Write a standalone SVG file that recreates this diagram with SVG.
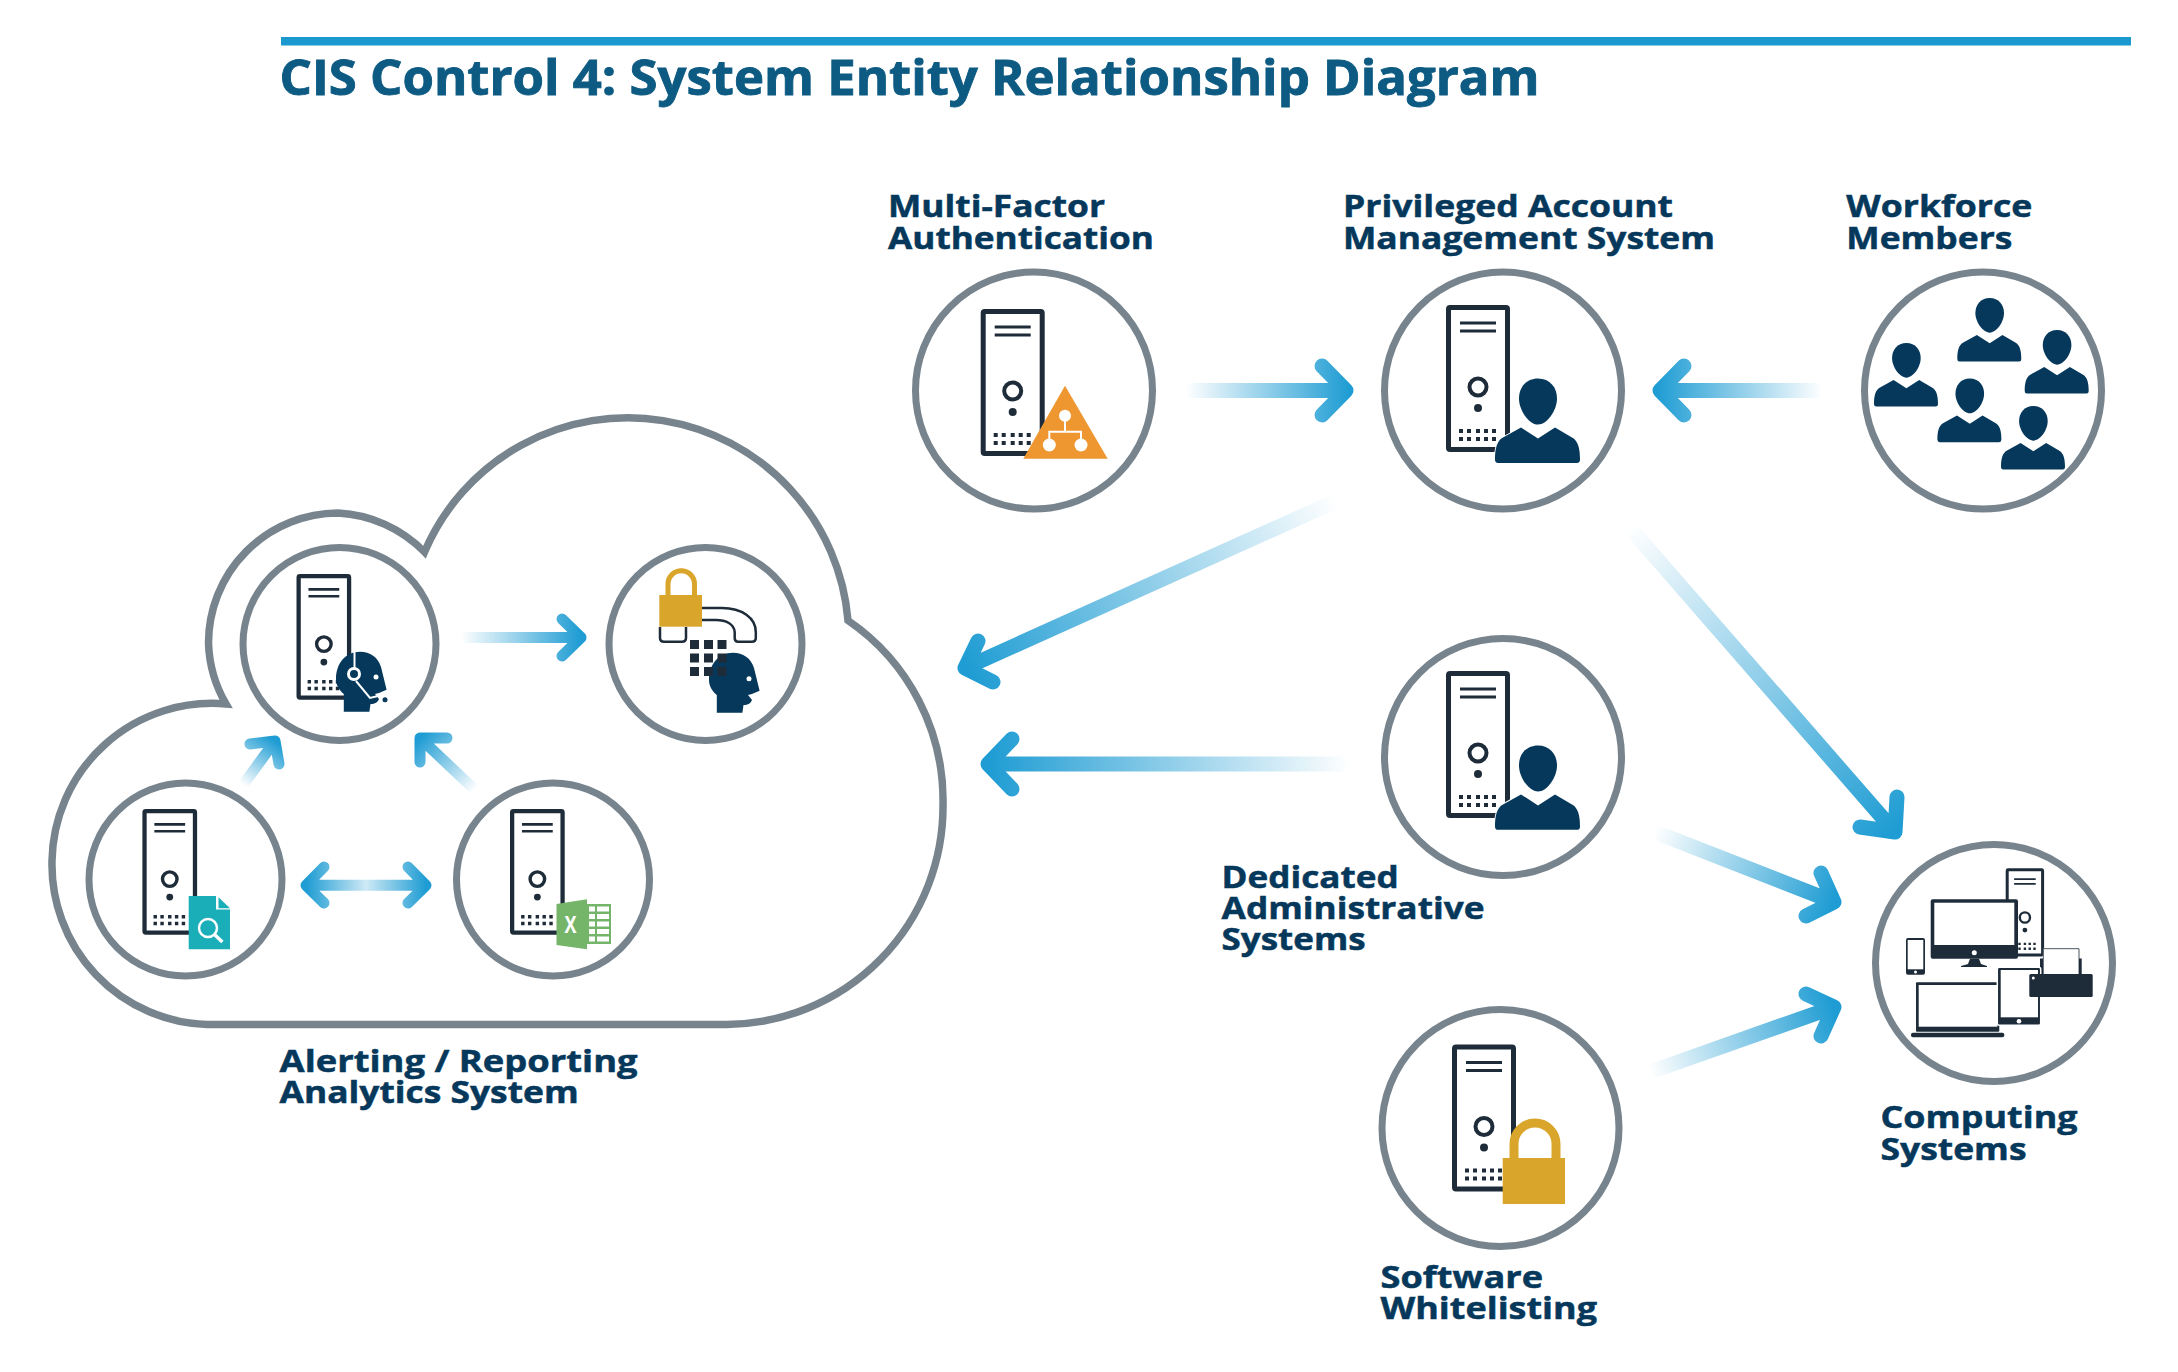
<svg xmlns="http://www.w3.org/2000/svg" width="2178" height="1372" viewBox="0 0 2178 1372">
<style>
text{font-family:"Open Sans","Noto Sans","Liberation Sans",sans-serif;font-weight:700}
.title{font-size:49px;fill:#0d5a82;stroke:#0d5a82;stroke-width:.9}
.lab{font-size:31px;fill:#05385b;stroke:#05385b;stroke-width:.5}
.ring{fill:#fff;stroke:#77848d;stroke-width:7}
.cloud{fill:#fff;stroke:#77848d;stroke-width:7.5;stroke-linejoin:miter}
.arr{fill:none;stroke-width:15;stroke-linecap:round;stroke-linejoin:round}
.thin{stroke-width:11}
.dark{fill:#1e2c3a}
.navy{fill:#05385b}
.gold{fill:#d9a52b}
.wl{fill:none;stroke:#fff}
.halo{stroke:#fff;stroke-width:2;paint-order:stroke}
</style>
<defs>
<linearGradient id="ramp"><stop offset="0" stop-color="#1e9cd3" stop-opacity="0"/><stop offset="1" stop-color="#1e9cd3"/></linearGradient>
<linearGradient id="rampD"><stop offset="0" stop-color="#1e9cd3"/><stop offset=".5" stop-color="#1e9cd3" stop-opacity=".22"/><stop offset="1" stop-color="#1e9cd3"/></linearGradient>
<linearGradient id="a1" href="#ramp" gradientUnits="userSpaceOnUse" x1="1186" y1="0" x2="1350" y2="0"/>
<linearGradient id="a2" href="#ramp" gradientUnits="userSpaceOnUse" x1="1822" y1="0" x2="1656" y2="0"/>
<linearGradient id="a3" href="#ramp" gradientUnits="userSpaceOnUse" x1="1336" y1="501" x2="965" y2="668"/>
<linearGradient id="a4" href="#ramp" gradientUnits="userSpaceOnUse" x1="1350" y1="0" x2="988" y2="0"/>
<linearGradient id="a5" href="#ramp" gradientUnits="userSpaceOnUse" x1="1630" y1="528" x2="1895" y2="832"/>
<linearGradient id="a6" href="#ramp" gradientUnits="userSpaceOnUse" x1="1655" y1="832" x2="1834" y2="902"/>
<linearGradient id="a7" href="#ramp" gradientUnits="userSpaceOnUse" x1="1650" y1="1072" x2="1834" y2="1007"/>
<linearGradient id="a8" href="#ramp" gradientUnits="userSpaceOnUse" x1="461" y1="0" x2="581" y2="0"/>
<linearGradient id="a9" href="#ramp" gradientUnits="userSpaceOnUse" x1="243" y1="785" x2="275" y2="741"/>
<linearGradient id="a10" href="#ramp" gradientUnits="userSpaceOnUse" x1="475" y1="790" x2="420" y2="738"/>
<linearGradient id="a11" href="#rampD" gradientUnits="userSpaceOnUse" x1="306" y1="0" x2="426" y2="0"/>
<g id="server">
<rect x="2.5" y="2.5" width="59" height="142" rx="1.5" fill="#fff" stroke="#1e2c3a" stroke-width="5"/>
<path d="M14 18H50M14 26H50" stroke="#1e2c3a" stroke-width="3" fill="none"/>
<circle cx="32" cy="82" r="8.5" fill="none" stroke="#1e2c3a" stroke-width="4"/>
<circle class="dark" cx="32" cy="103" r="4"/>
<path d="M13 124h4v4h-4zM21 124h4v4h-4zM30 124h4v4h-4zM38 124h4v4h-4zM46 124h4v4h-4zM13 132h4v4h-4zM21 132h4v4h-4zM30 132h4v4h-4zM38 132h4v4h-4zM46 132h4v4h-4z" fill="#1e2c3a"/>
</g>
<g id="person">
<path fill="#05385b" d="M43 0C55 0 62 9 62 20C62 32 52 46 43 46C34 46 24 32 24 20C24 9 31 0 43 0Z"/>
<path class="halo" fill="#05385b" d="M3 84.4Q0 84.4 0 81C0 70 2 62 8 59L26 49L43 60L60 49L77 59C83 62 85 70 85 81Q85 84.4 82 84.4Z"/>
</g>
<path id="head" fill="#05385b" d="M733 652.7C718 652.7 709 665 709 680C709 686 712 691 716.8 695V712.7H742.4L743.5 705C748 705 751 703 752 700L748 695L752 694L759.6 690.7L754 668C751 658 743 652.7 733 652.7Z"/>
</defs>

<rect x="281" y="37" width="1850" height="8.500" fill="#1b99cf"/>
<text class="title" x="279.500" y="95" textLength="1260" lengthAdjust="spacingAndGlyphs">CIS Control 4: System Entity Relationship Diagram</text>

<g id="node-alerting-reporting">
<path class="cloud" d="M207 1024.500H727A218 218 0 0 0 943 805A218 218 0 0 0 848 620.500A221 221 0 0 0 424.500 552A130 130 0 0 0 338 513A130 130 0 0 0 208.500 643A130 130 0 0 0 226 704A160 160 0 0 0 52 861A160 160 0 0 0 207 1024.500Z"/>
<text class="lab" x="279.600" y="1072" textLength="358" lengthAdjust="spacingAndGlyphs">Alerting / Reporting</text>
<text class="lab" x="279.600" y="1103" textLength="299" lengthAdjust="spacingAndGlyphs">Analytics System</text>
</g>

<g id="connectors">
<path class="arr" stroke="url(#a1)" d="M1186 390.500H1346M1322 366L1346 390.500L1322 415"/>
<path class="arr" stroke="url(#a2)" d="M1822 390.500H1660M1684 366L1660 390.500L1684 415"/>
<path class="arr" stroke="url(#a3)" d="M1336 501L965 668M978 641L965 668L993 682"/>
<path class="arr" stroke="url(#a4)" d="M1350 764H988M1012 739L988 764L1012 789"/>
<path class="arr" stroke="url(#a5)" d="M1630 528L1895 832M1897 797L1895 832L1860 827"/>
<path class="arr" stroke="url(#a6)" d="M1655 832L1834 902M1821 873L1834 902L1806 916"/>
<path class="arr" stroke="url(#a7)" d="M1650 1072L1834 1007M1806 994L1834 1007L1821 1036"/>
<path class="arr thin" stroke="url(#a8)" d="M461 637.500H581M562 619L581 637.500L562 656"/>
<path class="arr thin" stroke="url(#a9)" d="M243 785L275 741M250 744L275 741L279 764"/>
<path class="arr thin" stroke="url(#a10)" d="M475 790L420 738M447 738L420 738L420 762"/>
<path class="arr thin" stroke="url(#a11)" d="M306 885.300H426M324 867L306 885.300L324 903M408 867L426 885.300L408 903"/>
</g>

<g id="node-mfa">
<circle class="ring" cx="1034" cy="390.500" r="118.500"/>
<use href="#server" x="980.700" y="309"/>
<path d="M1065 385.700L1107.700 458.700H1023.300Z" fill="#ee9630"/>
<path class="wl" stroke-width="2" d="M1065 416V431.700M1049.300 445V431.700H1081V445"/>
<g fill="#fff"><circle cx="1065" cy="415.700" r="6"/><circle cx="1049.300" cy="445" r="6.500"/><circle cx="1081" cy="445" r="6.500"/></g>
<text class="lab" x="888" y="217" textLength="217" lengthAdjust="spacingAndGlyphs">Multi-Factor</text>
<text class="lab" x="888" y="248.700" textLength="266" lengthAdjust="spacingAndGlyphs">Authentication</text>
</g>

<g id="node-pam">
<circle class="ring" cx="1503" cy="390.500" r="118.500"/>
<use href="#server" x="1446" y="305"/>
<use href="#person" x="1495" y="378.600"/>
<text class="lab" x="1343" y="216.500" textLength="330" lengthAdjust="spacingAndGlyphs">Privileged Account</text>
<text class="lab" x="1343" y="248.700" textLength="372" lengthAdjust="spacingAndGlyphs">Management System</text>
</g>

<g id="node-workforce">
<circle class="ring" cx="1983" cy="390.500" r="118.500"/>
<use href="#person" transform="translate(1957.300 298) scale(.753)"/>
<use href="#person" transform="translate(1874 343) scale(.753)"/>
<use href="#person" transform="translate(2024.700 330) scale(.753)"/>
<use href="#person" transform="translate(1937.400 378.600) scale(.753)"/>
<use href="#person" transform="translate(2001 406) scale(.753)"/>
<text class="lab" x="1846.300" y="217" textLength="186" lengthAdjust="spacingAndGlyphs">Workforce</text>
<text class="lab" x="1846.300" y="248.700" textLength="166" lengthAdjust="spacingAndGlyphs">Members</text>
</g>

<g id="node-dedicated">
<circle class="ring" cx="1503" cy="757" r="118.500"/>
<use href="#server" x="1446" y="671"/>
<use href="#person" x="1495" y="745.400"/>
<text class="lab" x="1221.600" y="887.600" textLength="177" lengthAdjust="spacingAndGlyphs">Dedicated</text>
<text class="lab" x="1221.600" y="918.800" textLength="263" lengthAdjust="spacingAndGlyphs">Administrative</text>
<text class="lab" x="1221.600" y="950" textLength="144" lengthAdjust="spacingAndGlyphs">Systems</text>
</g>

<g id="node-software">
<circle class="ring" cx="1500.500" cy="1128" r="118.500"/>
<use href="#server" x="1452" y="1044.500"/>
<path d="M1514 1158V1144A21 21 0 0 1 1556 1144V1158" fill="none" stroke="#d9a52b" stroke-width="9"/>
<rect class="gold" x="1502.700" y="1158" width="62.300" height="46"/>
<text class="lab" x="1380.500" y="1288" textLength="162.500" lengthAdjust="spacingAndGlyphs">Software</text>
<text class="lab" x="1380.500" y="1319.300" textLength="216.500" lengthAdjust="spacingAndGlyphs">Whitelisting</text>
</g>

<g id="node-computing">
<circle class="ring" cx="1994" cy="963" r="118.500"/>
<use href="#server" transform="translate(2005.700 868.300) scale(.6)"/>
<path d="M2043.300 974V948.700H2079V974" fill="#fff" stroke="#4a5560" stroke-width="1"/>
<path class="dark" d="M2040 974V958.500H2043V974ZM2079 974V958.500H2081.700V974Z"/>
<rect x="1930.700" y="899.300" width="87.300" height="59.400" rx="2" class="dark"/>
<rect x="1934.300" y="902.700" width="80" height="42.300" fill="#fff"/>
<circle cx="1974.300" cy="952.700" r="2.500" fill="#fff"/>
<path class="dark" d="M1970 958.700H1979L1981 964L1987 966V967H1961V966L1968 964Z"/>
<rect class="dark" x="1906" y="938" width="19" height="36.700" rx="2"/>
<rect x="1907.700" y="940" width="15.600" height="29.300" fill="#fff"/>
<circle cx="1915.500" cy="972" r="1.500" fill="#fff"/>
<rect class="dark" x="1916" y="982.300" width="83.300" height="49.400" rx="1"/>
<rect x="1918.700" y="985" width="78.600" height="41.700" fill="#fff"/>
<rect class="dark" x="1911" y="1032.700" width="93.300" height="4.600" rx="2"/>
<rect x="1997.300" y="967.300" width="43.400" height="58" rx="2" class="dark" stroke="#fff" stroke-width="1.500"/>
<rect x="2000.700" y="970" width="37.300" height="47.300" fill="#fff"/>
<circle cx="2019" cy="1021.300" r="2.300" fill="#fff"/>
<rect class="dark" x="2029.300" y="974" width="63.400" height="23" rx="1.500"/>
<circle cx="2033.300" cy="978" r="1.500" fill="#fff"/>
<text class="lab" x="1880.500" y="1128.400" textLength="197" lengthAdjust="spacingAndGlyphs">Computing</text>
<text class="lab" x="1880.500" y="1159.600" textLength="146" lengthAdjust="spacingAndGlyphs">Systems</text>
</g>

<g id="node-helpdesk">
<circle class="ring" cx="339.500" cy="644" r="96.500"/>
<use href="#server" transform="translate(296.500 574) scale(.855)"/>
<use href="#head" x="-373" y="-1"/>
<path class="wl" stroke-width="2" d="M354.500 652V668M356 681L370 698L378 696"/>
<circle cx="354" cy="674" r="5.500" fill="#05385b" stroke="#fff" stroke-width="3"/>
<circle cx="376" cy="677" r="2.500" fill="#fff"/>
<circle cx="385" cy="699.700" r="2.500" fill="#05385b"/>
</g>

<g id="node-phone">
<circle class="ring" cx="705.500" cy="644" r="96.500"/>
<path d="M668 595V584A13 13 0 0 1 694.500 584V595" fill="none" stroke="#d9a52b" stroke-width="5"/>
<path d="M702 608H722C742 608 755.800 618 755.800 632V638Q755.800 641.700 752 641.700H738Q734.700 641.700 734.700 638V632C734 624 726 620 716 620H702" fill="none" stroke="#1e2c3a" stroke-width="2.500"/>
<path d="M660 627V638Q660 641.700 664 641.700H682Q686 641.700 686 638V627" fill="none" stroke="#1e2c3a" stroke-width="2.500"/>
<rect class="gold" x="659.300" y="595" width="42.700" height="31.700"/>
<use href="#head"/>
<circle cx="749" cy="678.700" r="2.500" fill="#fff"/>
<path d="M690 640h9v9h-9zM704 640h9v9h-9zM717.500 640h9v9h-9zM690 653.500h9v9h-9zM704 653.500h9v9h-9zM717.500 653.500h9v9h-9zM690 667h9v9h-9zM704 667h9v9h-9zM717.500 667h9v9h-9z" fill="#1e2c3a"/>
</g>

<g id="node-findings">
<circle class="ring" cx="185.500" cy="879.500" r="96.500"/>
<use href="#server" transform="translate(142.400 809) scale(.855)"/>
<path d="M188.700 896H216V909.500H230V949.300H188.700Z" fill="#1aaeb9"/>
<path d="M218.500 897.300L230 908.300H218.500Z" fill="#1aaeb9"/>
<circle cx="208" cy="928" r="9" fill="none" stroke="#fff" stroke-width="2.500"/>
<path class="wl" stroke-width="3.500" d="M214.500 934.500L222.400 942"/>
</g>

<g id="node-excel">
<circle class="ring" cx="553" cy="879.500" r="96.500"/>
<use href="#server" transform="translate(510 809) scale(.855)"/>
<rect x="587" y="904" width="24" height="40" fill="#74b56a"/>
<path d="M589 906.500h6v5h-6zM597 906.500h12v5h-12zM589 914h6v5h-6zM597 914h12v5h-12zM589 921.500h6v5h-6zM597 921.500h12v5h-12zM589 929h6v5h-6zM597 929h12v5h-12zM589 936.500h6v5h-6zM597 936.500h12v5h-12z" fill="#fff"/>
<path d="M556.500 904L587 899.300V949.300L556.500 945Z" fill="#74b56a"/>
<text x="570.600" y="933" text-anchor="middle" style="font-size:23px;fill:#fff" textLength="12" lengthAdjust="spacingAndGlyphs">X</text>
</g>
</svg>
